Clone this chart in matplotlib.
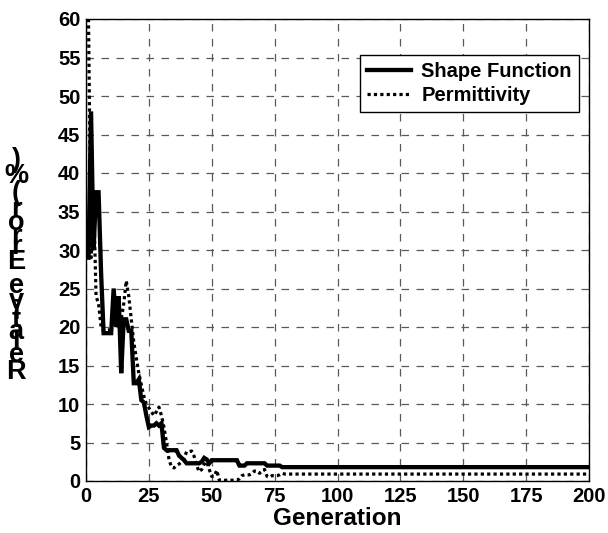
import numpy as np
import matplotlib
matplotlib.use("Agg")
import matplotlib.pyplot as plt
from matplotlib.font_manager import FontProperties, findfont
from matplotlib.ft2font import FT2Font

plt.rcParams['font.family'] = ['Liberation Sans', 'DejaVu Sans']
plt.rcParams['font.weight'] = 'bold'

# generations 1..80, then flat to 200
gen = list(range(1, 81)) + [200]

shape_function = [29, 48, 30, 37.5, 37.5, 27, 19.2, 19.2, 19.2, 19.2,
                  25, 20, 24, 14, 21, 21, 19.5, 19.5, 12.7, 12.7,
                  13.2, 10.5, 10.2, 8.5, 7.0, 7.2, 7.2, 7.5, 7.2, 7.5,
                  4.3, 4.0, 4.0, 4.0, 4.0, 4.0, 3.3, 3.0, 2.7, 2.3,
                  2.3, 2.3, 2.3, 2.3, 2.3, 2.5, 3.0, 2.8, 2.3, 2.7,
                  2.7, 2.7, 2.7, 2.7, 2.7, 2.7, 2.7, 2.7, 2.7, 2.7,
                  2.0, 2.0, 2.0, 2.3, 2.3, 2.3, 2.3, 2.3, 2.3, 2.3,
                  2.3, 2.0, 2.0, 2.0, 2.0, 2.0, 2.0, 1.8, 1.8, 1.8,
                  1.8]

permittivity = [60, 29, 37, 24, 23, 20, 19.5, 19.5, 19.5, 20,
                21, 24, 20, 21, 23, 26, 24, 21, 18, 16,
                14, 12.5, 11, 10, 9.5, 9.0, 8.5, 9.0, 9.6, 8.5,
                7.0, 5.0, 2.8, 1.8, 1.7, 2.0, 2.2, 2.5, 3.0, 3.8,
                3.8, 3.9, 3.2, 2.0, 1.2, 1.5, 2.2, 2.5, 1.5, 0.6,
                0.6, 1.4, 0.1, 0.1, 0.1, 0.1, 0.1, 0.1, 0.1, 0.1,
                0.3, 0.7, 0.8, 0.8, 0.8, 1.0, 1.3, 1.3, 1.0, 1.3,
                1.5, 0.6, 0.5, 0.7, 0.7, 0.7, 0.8, 1.0, 0.9, 0.9,
                0.9]

xticks = np.arange(0, 201, 25)
yticks = np.arange(0, 61, 5)
ylabel = 'Relative Error (%)'

W, H = 608, 533
fig = plt.figure(figsize=(W / 100, H / 100), dpi=100)
ax = fig.add_axes([86 / W, 52 / H, 503 / W, 462 / H])

ax.plot(gen, shape_function, color='black', lw=3.1, solid_joinstyle='miter',
        label='Shape Function')
ax.plot(gen, permittivity, color='black', lw=2.3, linestyle=(0, (1, 1)),
        dash_capstyle='butt', label='Permittivity')

ax.set_xlim(0, 200)
ax.set_ylim(0, 60)
ax.set_xticks(xticks)
ax.set_yticks(yticks)
ax.tick_params(direction='in', length=0, labelsize=14.5, pad=4)
for lab in ax.get_xticklabels() + ax.get_yticklabels():
    lab.set_fontweight('bold')
ax.grid(True, color='0.35', linestyle=(0, (6, 6)), linewidth=0.9)
for sp in ax.spines.values():
    sp.set_linewidth(1.0)
    sp.set_color('black')

ax.set_xlabel('Generation', fontsize=17.5, fontweight='bold', labelpad=1)

leg = ax.legend(loc='upper right', bbox_to_anchor=(0.98, 0.922), fontsize=14.5,
                frameon=True, fancybox=False, handlelength=2.2, borderpad=0.35,
                labelspacing=0.25, handletextpad=0.5, borderaxespad=0)
leg.get_frame().set_edgecolor('black')
leg.get_frame().set_linewidth(1.0)
leg.get_frame().set_alpha(1)

# y label: upright glyphs stacked along the rotated baseline
fsize = 19.5
fp = FontProperties(family='Liberation Sans', weight='bold', size=fsize)
ft = FT2Font(findfont(fp), hinting_factor=1)
ft.set_size(fsize, 100)
advs = [ft.load_char(ord(c)).linearHoriAdvance / 65536 for c in ylabel]
cum = np.concatenate([[0], np.cumsum(advs)[:-1]])
base = H - 372 - advs[0] / 2
for c, c0, a in zip(ylabel, cum, advs):
    if c == ' ':
        continue
    fig.text(16 / W, (base + c0 + a / 2) / H, c, fontproperties=fp,
             ha='center', va='center')

fig.savefig('out.png', dpi=100)
